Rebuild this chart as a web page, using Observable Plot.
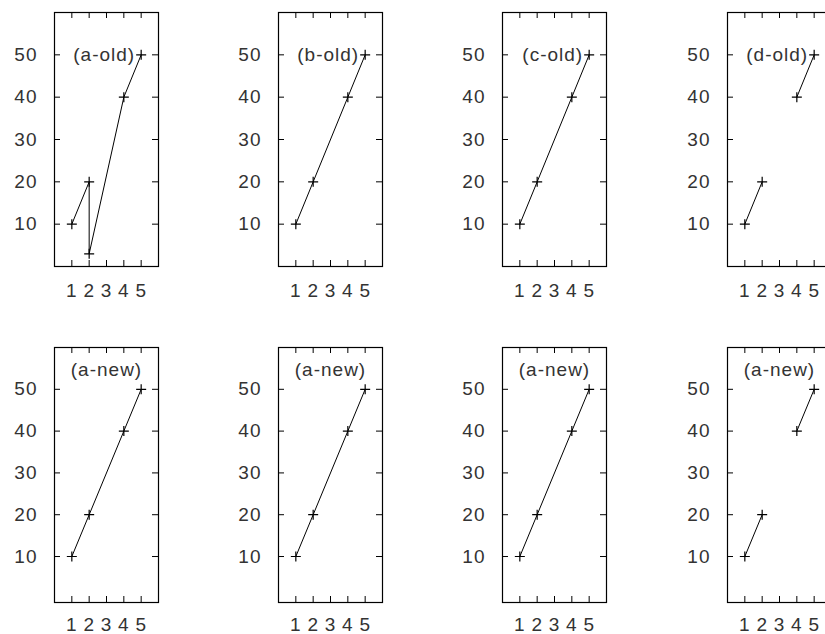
<!DOCTYPE html>
<html>
<head>
<meta charset="utf-8">
<script src="https://cdn.jsdelivr.net/npm/d3@7"></script>
<script src="https://cdn.jsdelivr.net/npm/@observablehq/plot@0.6"></script>
<style>
  html, body { margin: 0; padding: 0; background: #fff; }
  #grid { position: relative; width: 825px; height: 634px; overflow: hidden; }
  #grid > svg { position: absolute; }
</style>
</head>
<body>
<div id="grid"></div>
<script>
// Panel titles, top row (old handling of missing data) and bottom row (new handling)
const oldTitles = ["(a-old)", "(b-old)", "(c-old)", "(d-old)"];
const newTitles = ["(a-new)", "(a-new)", "(a-new)", "(a-new)"];

// Sample x positions and values; NaN marks the missing sample at x = 3
const xSamples = [1, 2, 3, 4, 5];
const ySamples = [10, 20, NaN, 40, 50];

// Panel (a-old): the missing entry was read back as a bogus point at x = 2
const xOldA = [1, 2, 2, 4, 5];
const yOldA = [10, 20, 3, 40, 50];

// Tick values
const xTicks = [1, 2, 3, 4, 5];
const yTicks = [10, 20, 30, 40, 50];

const rows = d3.range(xSamples.length).map(i => ({x: xSamples[i], y: ySamples[i]}));
const present = rows.filter(d => !isNaN(d.y));
const oldA = xOldA.map((x, i) => ({x, y: yOldA[i]}));

// Each panel: "connect" joins across the gap, "break" leaves a gap in the line
const panelData = [
  {title: oldTitles[0], data: oldA, mode: "connect"},
  {title: oldTitles[1], data: present, mode: "connect"},
  {title: oldTitles[2], data: present, mode: "connect"},
  {title: oldTitles[3], data: rows, mode: "break"},
  {title: newTitles[0], data: present, mode: "connect"},
  {title: newTitles[1], data: present, mode: "connect"},
  {title: newTitles[2], data: present, mode: "connect"},
  {title: newTitles[3], data: rows, mode: "break"}
];

// A stroked "+" point marker
const plusSymbol = {
  draw(context, size) {
    const h = Math.sqrt(size / Math.PI);
    context.moveTo(-h, 0); context.lineTo(h, 0);
    context.moveTo(0, -h); context.lineTo(0, h);
  }
};

const colStep = 224.2;
const W = 104; // inner plot width
const grid = document.getElementById("grid");

panelData.forEach((p, i) => {
  const row = Math.floor(i / 4), col = i % 4;
  const top = row === 0 ? 0 : 335;
  const height = row === 0 ? 310 : 299;
  const marginTop = 12;
  const marginBottom = row === 0 ? 44 : 32;
  const H = height - marginTop - marginBottom;
  const yDomain = row === 0 ? [0, 60] : [-1, 60];
  const pts = p.data.filter(d => !isNaN(d.y));

  const label = row === 0
    ? Plot.text([p.title], {x: () => 5, y: () => 50, text: d => d, textAnchor: "end", dx: -6})
    : Plot.text([p.title], {x: () => 3, y: () => 55, text: d => d, dy: 2});

  const svg = Plot.plot({
    width: 224,
    height,
    marginTop,
    marginBottom,
    marginLeft: 54,
    marginRight: 224 - 54 - W,
    style: {fontFamily: "'Liberation Sans', Arial, sans-serif", fontSize: "19px", letterSpacing: "1px", color: "#333", background: "transparent"},
    x: {domain: [0, 6]},
    y: {domain: yDomain},
    marks: [
      Plot.frame({stroke: "#000", strokeWidth: 1.2}),
      // inward ticks on all four sides
      Plot.tickX(xTicks, {x: d => d, insetTop: H - 6, stroke: "#000"}),
      Plot.tickX(xTicks, {x: d => d, insetBottom: H - 6, stroke: "#000"}),
      Plot.tickY(yTicks, {y: d => d, insetRight: W - 6, stroke: "#000"}),
      Plot.tickY(yTicks, {y: d => d, insetLeft: W - 6, stroke: "#000"}),
      Plot.axisX({ticks: xTicks, tickFormat: "d", tickSize: 0, tickPadding: row === 0 ? 17 : 15, label: null}),
      Plot.axisY({ticks: yTicks, tickFormat: "d", tickSize: 0, tickPadding: 17, label: null}),
      Plot.line(p.mode === "break" ? p.data : pts, {x: "x", y: "y", stroke: "#000", strokeWidth: 1}),
      Plot.dot(pts, {x: "x", y: "y", symbol: plusSymbol, r: 5, stroke: "#000", strokeWidth: 1.2, fill: "none"}),
      label
    ]
  });
  svg.style.left = (col * colStep) + "px";
  svg.style.top = top + "px";
  grid.appendChild(svg);
});
</script>
</body>
</html>
